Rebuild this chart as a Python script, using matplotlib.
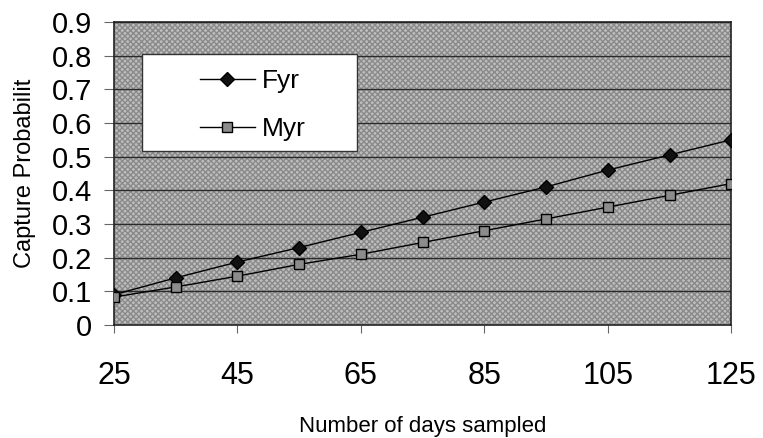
import matplotlib
matplotlib.use("Agg")
import matplotlib.pyplot as plt
from matplotlib.patches import Rectangle

plt.rcParams['font.family'] = ['Liberation Sans', 'DejaVu Sans']

# data
days = [25, 35, 45, 55, 65, 75, 85, 95, 105, 115, 125]
fyr = [0.09, 0.14, 0.187, 0.23, 0.275, 0.32, 0.365, 0.41, 0.46, 0.505, 0.55]
myr = [0.083, 0.113, 0.145, 0.18, 0.21, 0.245, 0.28, 0.315, 0.35, 0.385, 0.42]
x_ticks = [25, 45, 65, 85, 105, 125]
y_ticks = [0, 0.1, 0.2, 0.3, 0.4, 0.5, 0.6, 0.7, 0.8, 0.9]

fig = plt.figure(figsize=(7.63, 4.38), dpi=100)
ax = fig.add_axes([0.1494, 0.258, 0.809, 0.692])

# stippled grey plot area
ax.set_facecolor('#bebebe')
ax.add_patch(Rectangle((0, 0), 1, 1, transform=ax.transAxes, facecolor='none',
                       edgecolor='#8a8a8a', hatch='xxxxxx', linewidth=0, zorder=0))

for y in y_ticks[1:]:
    ax.axhline(y, color='#2a2a2a', linewidth=1.0, zorder=1)

ax.plot(days, fyr, color='black', linewidth=1.0, marker='D', markersize=7,
        markerfacecolor='#111111', markeredgecolor='black', label='Fyr', zorder=3)
ax.plot(days, myr, color='black', linewidth=1.0, marker='s', markersize=7,
        markerfacecolor='#8c8c8c', markeredgecolor='black', label='Myr', zorder=3)

ax.set_xlim(25, 125)
ax.set_ylim(0, 0.9)
ax.set_xticks(x_ticks)
ax.set_yticks(y_ticks)
ax.set_yticklabels(['0' if v == 0 else f'{v:.1f}' for v in y_ticks])
ax.tick_params(axis='both', direction='out', color='#666666')
ax.tick_params(axis='x', labelsize=22, length=6, pad=20)
ax.tick_params(axis='y', labelsize=21, length=7, pad=9)

for side in ['top', 'right', 'left', 'bottom']:
    ax.spines[side].set_color('#222222')
    ax.spines[side].set_linewidth(1.2)

ax.set_xlabel('Number of days sampled', fontsize=16, labelpad=18)
ax.set_ylabel('Capture Probabilit', fontsize=17, labelpad=11)

# white legend box, entries placed inside it
ax.add_patch(Rectangle((0.045, 0.574), 0.349, 0.32, transform=ax.transAxes,
                       facecolor='white', edgecolor='#333333', linewidth=1.0, zorder=4))
leg = ax.legend(loc='upper left', bbox_to_anchor=(0.139, 0.844), frameon=False,
                fontsize=19, handlelength=2.08, handletextpad=0.27,
                borderpad=0, labelspacing=0.92, borderaxespad=0)
leg.set_zorder(5)

fig.savefig('out.png', dpi=100)
